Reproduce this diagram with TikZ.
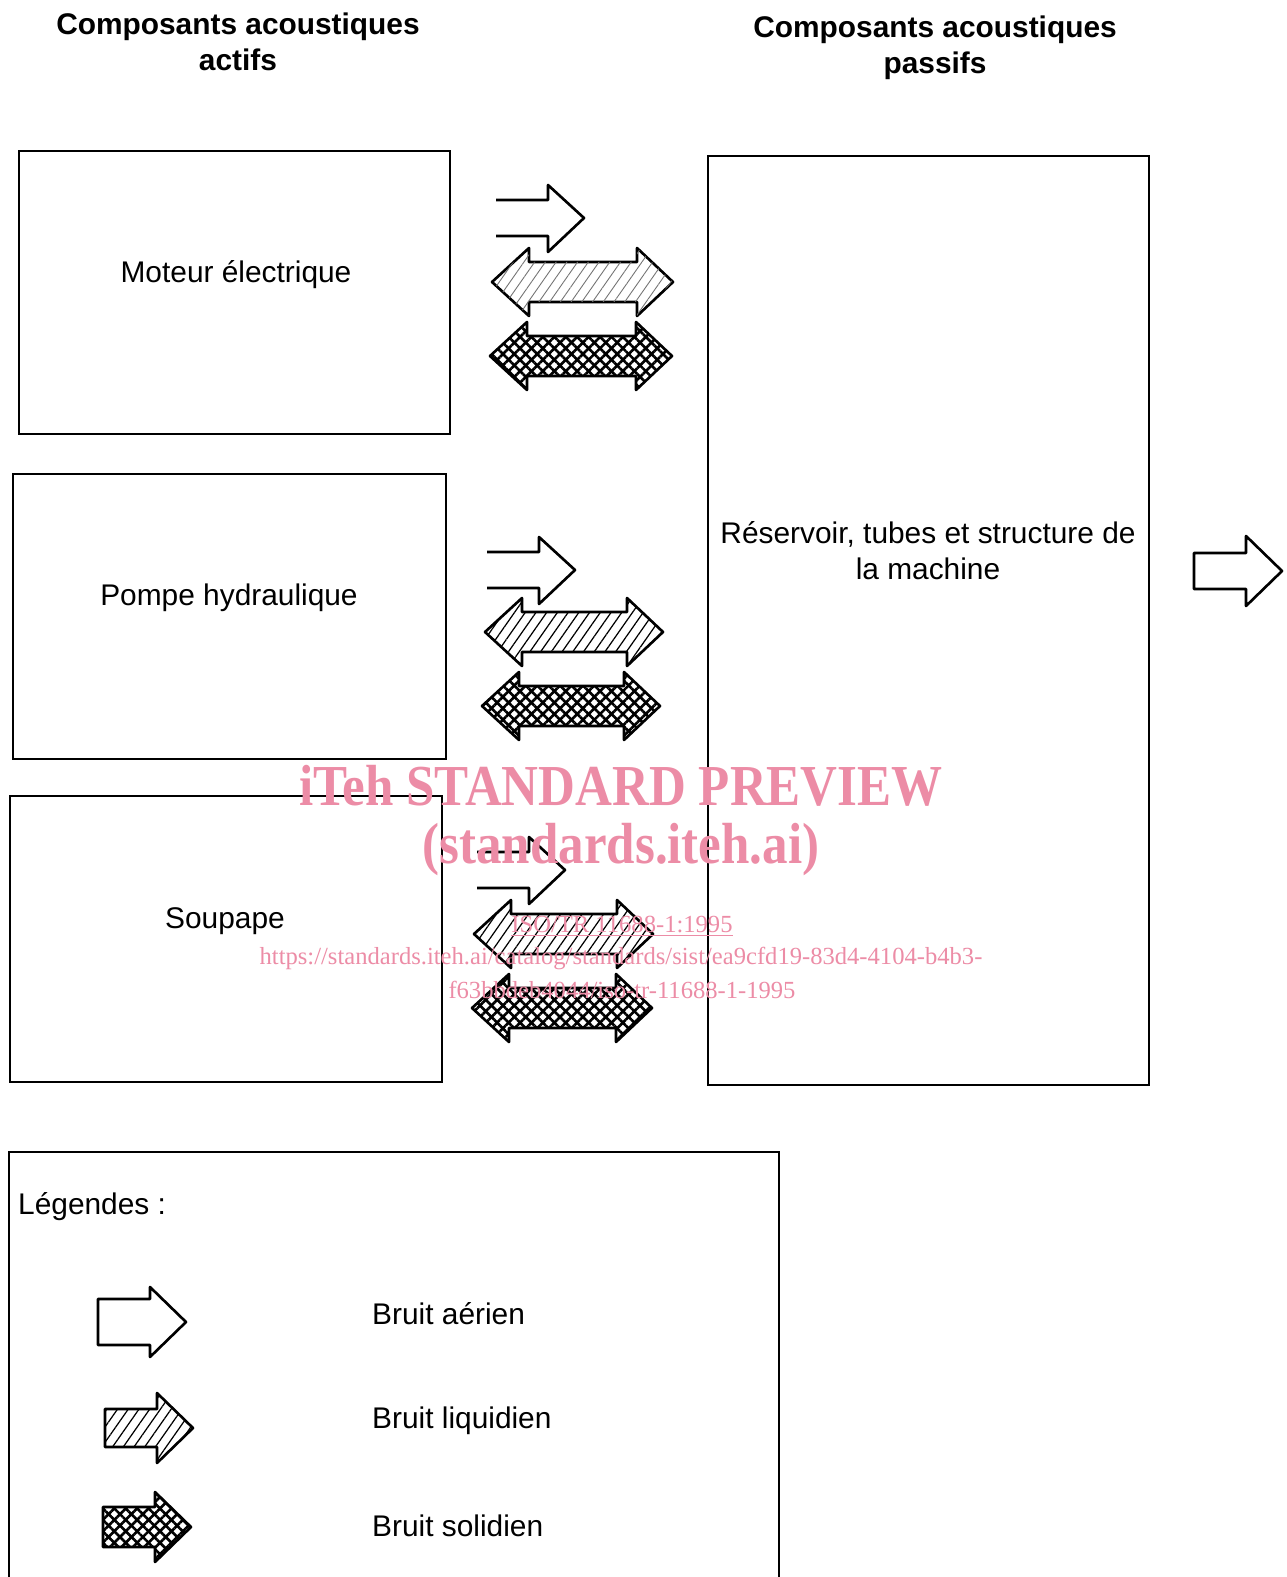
\documentclass[tikz,border=0pt]{standalone}
\usepackage{fontspec}
\setmainfont{Liberation Sans}
\newfontfamily\wmfont{Liberation Serif}
\usetikzlibrary{patterns.meta}

\definecolor{wmpink}{RGB}{236,140,166}

\tikzset{
  box/.style={draw,line width=1.3pt,inner sep=0pt},
  txt/.style={font=\fontsize{17}{20.5}\selectfont,align=center},
  head/.style={font=\bfseries\fontsize{17}{20.5}\selectfont,align=center},
  arr/.style={line width=1.5pt,line join=round},
  lighthatch/.style={fill=white,postaction={pattern={Lines[angle=55,distance=5pt,line width=.5pt]},pattern color=black!55}},
  hatch/.style={fill=white,postaction={pattern={Lines[angle=55,distance=5pt,line width=.7pt]}}},
  xhatch/.style={fill=white,postaction={pattern={Lines[angle=45,distance=4.6pt,line width=1.5pt]}},
    postaction={pattern={Lines[angle=-45,distance=4.6pt,line width=1.5pt]}}},
  wm/.style={text=wmpink,align=center}
}

% open-tailed air-noise arrow: tail x, centre y
\newcommand{\airarrow}[2]{%
  \draw[arr] (#1,#2-18) -- (#1+52,#2-18) -- (#1+52,#2-33) -- (#1+88,#2)
    -- (#1+52,#2+34) -- (#1+52,#2+18) -- (#1,#2+18);}
% double arrow: fill style, left tip x, right tip x, centre y
\newcommand{\dblarrow}[4]{%
  \path[arr,draw,#1] (#2,#4) -- (#2+37,#4-34) -- (#2+37,#4-20) -- (#3-36,#4-20)
    -- (#3-36,#4-34) -- (#3,#4) -- (#3-36,#4+34) -- (#3-36,#4+20)
    -- (#2+37,#4+20) -- (#2+37,#4+34) -- cycle;}
% closed single arrow: fill style, tail x, centre y, shaft half height
\newcommand{\onearrow}[4]{%
  \path[arr,draw,#1] (#2,#3-#4) -- (#2+52,#3-#4) -- (#2+52,#3-35) -- (#2+88,#3)
    -- (#2+52,#3+35) -- (#2+52,#3+#4) -- (#2,#3+#4) -- cycle;}

\begin{document}
\begin{tikzpicture}[x=0.02cm,y=-0.02cm]
  \useasboundingbox (0,0) rectangle (1286,1577);

  % headings
  \node[head] (actifs) at (238,42) {Composants acoustiques\\actifs};
  \node[head] (passifs) at (935,48) {Composants acoustiques\\passifs};

  % active components
  \node[box,minimum width=8.62cm,minimum height=5.66cm] (moteur) at (234.5,292.5) {};
  \node[txt] (moteurtxt) at (236,275) {Moteur électrique};
  \node[box,minimum width=8.66cm,minimum height=5.70cm] (pompe) at (229.5,616.5) {};
  \node[txt] (pompetxt) at (229,598) {Pompe hydraulique};
  \node[box,minimum width=8.64cm,minimum height=5.72cm] (soupape) at (226,939) {};
  \node[txt] (soupapetxt) at (225,921) {Soupape};

  % passive component
  \node[box,minimum width=8.82cm,minimum height=18.58cm] (reservoir) at (928.5,620.5) {};
  \node[txt] (reservoirtxt) at (928,551) {Réservoir, tubes et structure de\\la machine};

  % transmission paths
  \airarrow{496}{218}
  \dblarrow{lighthatch}{492}{673}{282}
  \dblarrow{xhatch}{490}{672}{356}

  \airarrow{487}{570}
  \dblarrow{hatch}{485}{663}{632}
  \dblarrow{xhatch}{482}{660}{706}

  \airarrow{477}{870}
  \dblarrow{hatch}{474}{653}{934}
  \dblarrow{xhatch}{472}{652}{1008}

  % radiated noise
  \onearrow{fill=white}{1194}{571}{18}

  % legend
  \draw[line width=1.3pt] (9,1600) -- (9,1152) -- (779,1152) -- (779,1600);
  \node[txt,anchor=west] (legende) at (12,1207) {Légendes :};
  \onearrow{fill=white}{98}{1322}{23}
  \onearrow{hatch}{105}{1428}{19}
  \onearrow{xhatch}{103}{1527}{20}
  \node[txt,anchor=west] (aerien) at (366,1314) {Bruit aérien};
  \node[txt,anchor=west] (liquidien) at (366,1421) {Bruit liquidien};
  \node[txt,anchor=west] (solidien) at (366,1526) {Bruit solidien};

  % watermark
  \node[wm,font=\wmfont\bfseries\fontsize{33}{36}\selectfont,xscale=0.88] (wm1) at (621,786) {iTeh STANDARD PREVIEW};
  \node[wm,font=\wmfont\bfseries\fontsize{33}{36}\selectfont,xscale=0.88] (wm2) at (621,850) {(standards.iteh.ai)};
  \node[wm,font=\wmfont\fontsize{14}{18}\selectfont] (wm3) at (622,926) {\underline{ISO/TR 11688-1:1995}};
  \node[wm,font=\wmfont\fontsize{14}{18}\selectfont] (wm4) at (621,958) {https://standards.iteh.ai/catalog/standards/sist/ea9cfd19-83d4-4104-b4b3-};
  \node[wm,font=\wmfont\fontsize{14}{18}\selectfont] (wm5) at (622,990) {f63bbdeb4044/iso-tr-11688-1-1995};
\end{tikzpicture}
\end{document}
